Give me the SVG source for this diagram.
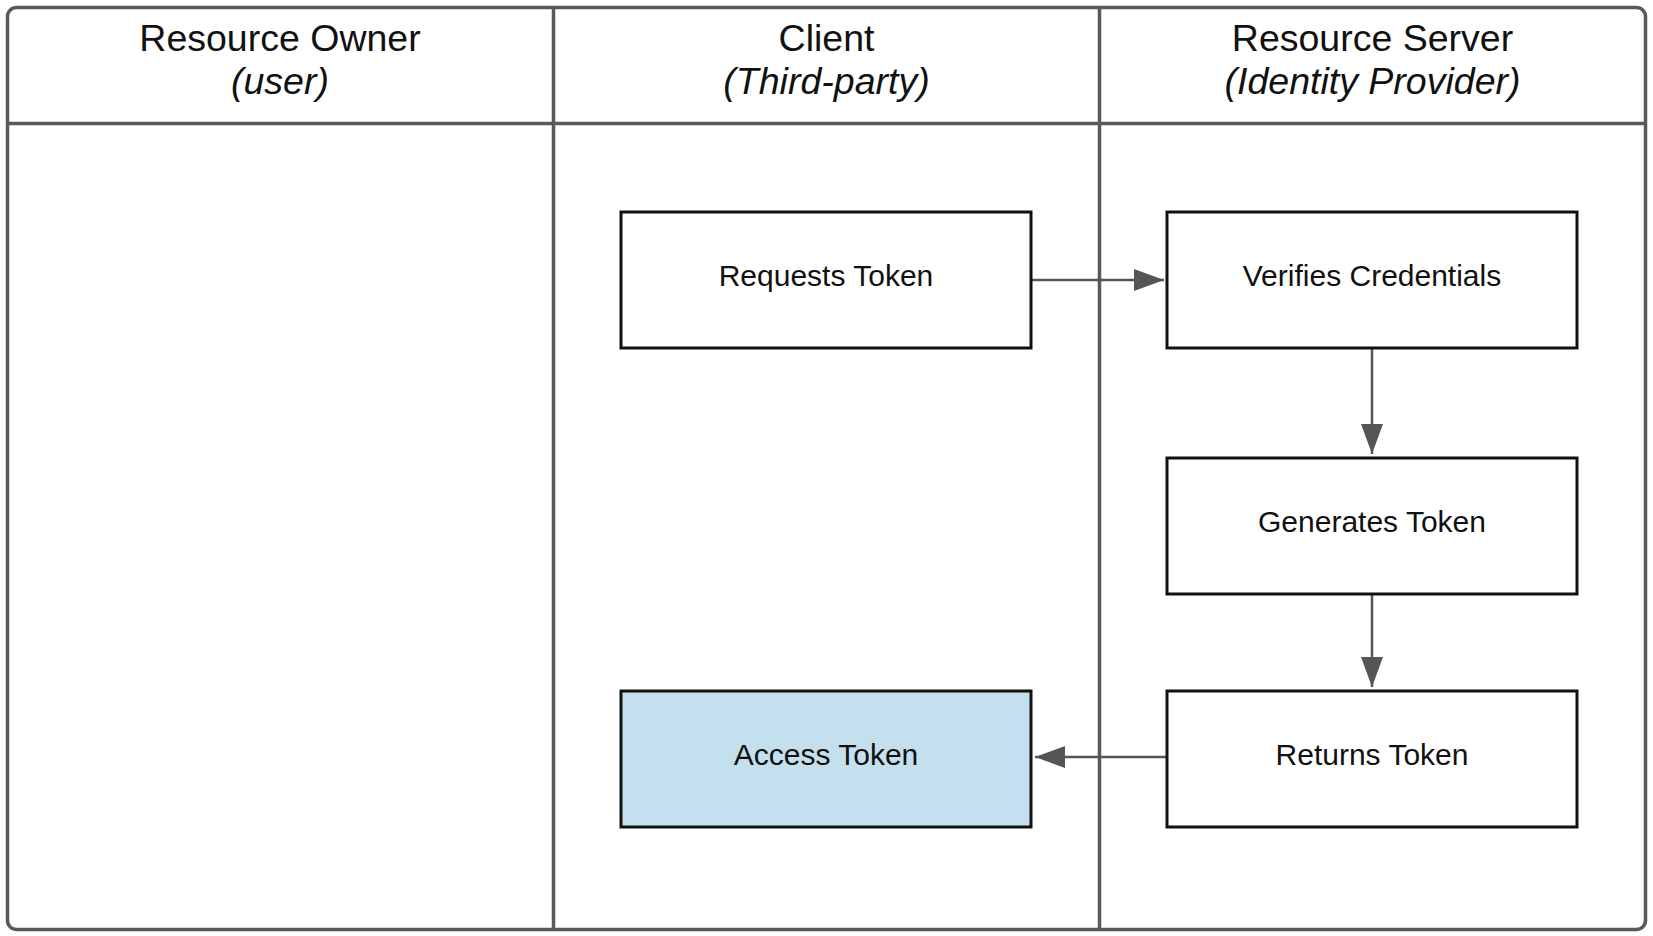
<svg xmlns="http://www.w3.org/2000/svg" width="1653" height="936" viewBox="0 0 1653 936">
<defs>
<style>
.lane{fill:none;stroke:#595959;stroke-width:3.5}
.box{fill:#ffffff;stroke:#111111;stroke-width:3}
.hl{fill:#c4e0ee}
.hdr{font-family:"Liberation Sans",Arial,sans-serif;font-size:37.5px;fill:#111;text-anchor:middle}
.hdr .it{font-style:italic}
.lbl{font-family:"Liberation Sans",Arial,sans-serif;font-size:30px;fill:#111;text-anchor:middle}
.conn{fill:none;stroke:#555555;stroke-width:2.5}
</style>
<marker id="arrL" viewBox="0 0 30 22" refX="30" refY="11" markerWidth="30" markerHeight="22" markerUnits="userSpaceOnUse" orient="auto">
<path d="M0,0 L30,11 L0,22 Z" fill="#555555"/>
</marker>
</defs>
<rect width="1653" height="936" fill="#ffffff"/>
<g id="pool">
<rect class="lane" x="7.5" y="7.5" width="1638" height="922" rx="9"/>
<line class="lane" x1="7.5" y1="123.5" x2="1645.5" y2="123.5"/>
<line class="lane" x1="553.5" y1="7.5" x2="553.5" y2="929.5"/>
<line class="lane" x1="1099.5" y1="7.5" x2="1099.5" y2="929.5"/>
</g>
<g id="lane-owner">
<text class="hdr" x="280" y="51">Resource Owner</text>
<text class="hdr" x="280" y="94"><tspan class="it">(user)</tspan></text>
</g>
<g id="lane-client">
<text class="hdr" x="826.5" y="51">Client</text>
<text class="hdr" x="826.5" y="94"><tspan class="it">(Third-party)</tspan></text>
</g>
<g id="lane-server">
<text class="hdr" x="1372.5" y="51">Resource Server</text>
<text class="hdr" x="1372.5" y="94"><tspan class="it">(Identity Provider)</tspan></text>
</g>
<g id="connectors">
<line class="conn" x1="1031" y1="280" x2="1164" y2="280" marker-end="url(#arrL)"/>
<line class="conn" x1="1372" y1="348" x2="1372" y2="454" marker-end="url(#arrL)"/>
<line class="conn" x1="1372" y1="594" x2="1372" y2="687" marker-end="url(#arrL)"/>
<line class="conn" x1="1167" y1="757" x2="1035" y2="757" marker-end="url(#arrL)"/>
</g>
<g id="requests-token">
<rect class="box" x="621" y="212" width="410" height="136"/>
<text class="lbl" x="826" y="286">Requests Token</text>
</g>
<g id="verifies-credentials">
<rect class="box" x="1167" y="212" width="410" height="136"/>
<text class="lbl" x="1372" y="286">Verifies Credentials</text>
</g>
<g id="generates-token">
<rect class="box" x="1167" y="458" width="410" height="136"/>
<text class="lbl" x="1372" y="532">Generates Token</text>
</g>
<g id="returns-token">
<rect class="box" x="1167" y="691" width="410" height="136"/>
<text class="lbl" x="1372" y="765">Returns Token</text>
</g>
<g id="access-token">
<rect class="box hl" x="621" y="691" width="410" height="136"/>
<text class="lbl" x="826" y="765">Access Token</text>
</g>
</svg>
